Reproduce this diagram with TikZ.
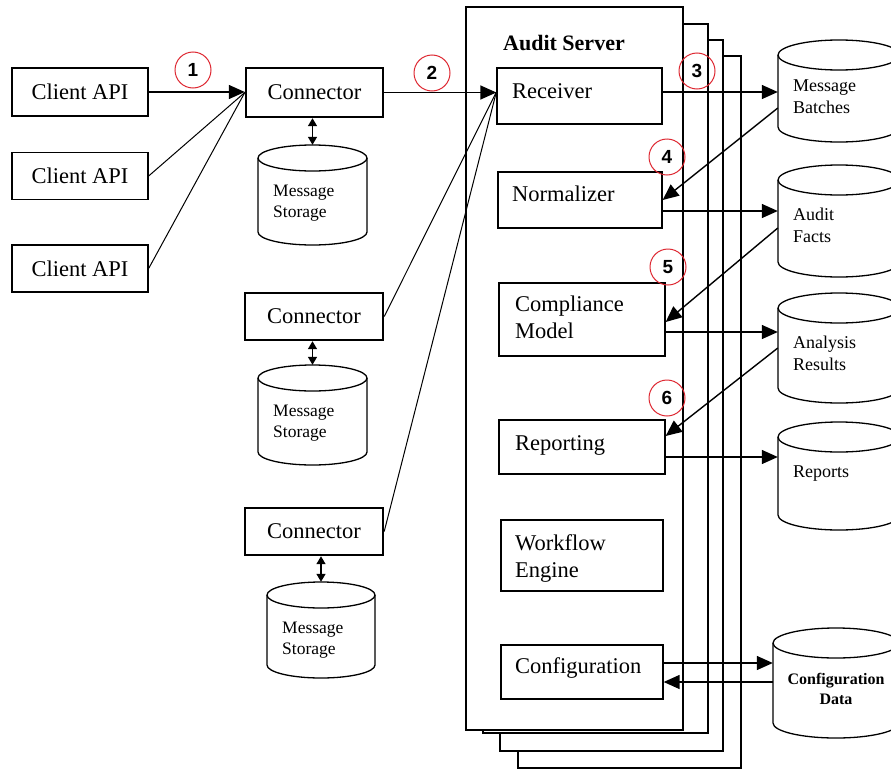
\documentclass[tikz,border=0pt]{standalone}
\usepackage{fontspec}
\setmainfont{Liberation Serif}
\newfontfamily\numfont{Liberation Sans}
\usetikzlibrary{arrows.meta}
\definecolor{circred}{RGB}{222,40,50}
\newcommand\cylshape[7]{% name, cx, cy, rx, h, ry, line width
  \node[inner sep=0pt, minimum width=2*#4, minimum height=2*#5] (#1) at (#2,#3) {};
  \draw[line width=#7, fill=white] (#2-#4,#3-#5+#6) -- (#2-#4,#3+#5-#6)
     arc[start angle=180,end angle=0,x radius=#4,y radius=#6] -- (#2+#4,#3-#5+#6);
  \draw[line width=#7] (#2,#3-#5+#6) ellipse[x radius=#4,y radius=#6];
}
\tikzset{
  thinbox/.style={draw, line width=1.3pt, inner sep=0pt, fill=white},
  thickbox/.style={draw, line width=2.4pt, inner sep=0pt, fill=white, font=\fontsize{22.5}{27}\selectfont},
  layer/.style={draw, line width=2.4pt, fill=white},
  boxtext/.style={inner sep=0pt, anchor=base west, align=left, font=\fontsize{22.5}{27}\selectfont},
  cyltext/.style={inner sep=0pt, anchor=base west, align=left, font=\fontsize{17.5}{20.5}\selectfont},
  rcyltext/.style={inner sep=0pt, anchor=base west, align=left, font=\fontsize{18}{21.5}\selectfont},
  arr/.style={line width=1.4pt, -{Triangle[length=16pt,width=14pt]}},
  plain/.style={line width=1pt},
  dbl/.style={line width=1.4pt, {Triangle[length=8pt,width=9pt]}-{Triangle[length=8pt,width=9pt]}},
  num/.style={circle, draw=circred, line width=1pt, minimum size=36pt, inner sep=0pt, font=\numfont\bfseries\fontsize{19}{19}\selectfont},
}
\begin{document}
\begin{tikzpicture}[x=1pt,y=-1pt]
\useasboundingbox (0,0) rectangle (891,771);
\clip (0,0) rectangle (891,771);
\fill[white] (0,0) rectangle (891,771);

% client APIs
\node[thinbox, minimum width=136pt, minimum height=48pt, font=\fontsize{22.5}{27}\selectfont] (cl1) at (80,92) {Client API};
\node[thinbox, minimum width=136pt, minimum height=47pt, font=\fontsize{22.5}{27}\selectfont] (cl2) at (80,176) {Client API};
\node[thinbox, minimum width=136pt, minimum height=47pt, font=\fontsize{22.5}{27}\selectfont] (cl3) at (80,268.5) {Client API};

% connectors
\node[thickbox, minimum width=137pt, minimum height=49pt] (con1) at (314.5,92.5) {Connector};
\node[thickbox, minimum width=138pt, minimum height=47pt] (con2) at (314,316.5) {Connector};
\node[thickbox, minimum width=138pt, minimum height=47pt] (con3) at (314,531.5) {Connector};

% storages
\cylshape{s1}{312.5}{195}{54.5}{50}{13}{1.3pt}
\cylshape{s2}{312.5}{415}{54.5}{50}{13}{1.3pt}
\cylshape{s3}{321}{630}{54}{48}{13}{1.3pt}
\node[cyltext] (s1t) at (273,217) {Message\\Storage};
\node[cyltext] (s2t) at (273,437) {Message\\Storage};
\node[cyltext] (s3t) at (282,654) {Message\\Storage};

\draw[dbl] (s1.north |- con1.south) -- (s1.north);
\draw[dbl] (s2.north |- con2.south) -- (s2.north);
\draw[dbl] (s3.north |- con3.south) -- (s3.north);

% audit server stack
\draw[layer] (518,56) rectangle (741,768);
\draw[layer] (500,40) rectangle (723,751);
\draw[layer] (483,24) rectangle (708,733);
\node[layer, minimum width=217pt, minimum height=723pt, inner sep=0pt] (srv) at (574.5,368.5) {};
\node[inner sep=0pt, anchor=base west, font=\bfseries\fontsize{22}{26}\selectfont] (srvt) at (503,50.5) {Audit Server};

% inner boxes
\node[thinbox, minimum width=165pt, minimum height=56pt] (recv) at (579.5,96) {};
\node[thinbox, minimum width=164pt, minimum height=56pt] (norm) at (580,200) {};
\node[thinbox, minimum width=166pt, minimum height=73pt] (comp) at (582,319.5) {};
\node[thinbox, minimum width=166pt, minimum height=54pt] (rep) at (582,447) {};
\node[thinbox, minimum width=162pt, minimum height=71pt] (wf) at (582,555.5) {};
\node[thinbox, minimum width=162pt, minimum height=54pt] (conf) at (582,672) {};
\node[boxtext] (recvt) at (512,98) {Receiver};
\node[boxtext] (normt) at (512,201.5) {Normalizer};
\node[boxtext] (compt) at (515,338.5) {Compliance\\Model};
\node[boxtext] (rept) at (515,450) {Reporting};
\node[boxtext] (wft) at (515,577) {Workflow\\Engine};
\node[boxtext] (conft) at (515,673) {Configuration};

% right data stores
\cylshape{mb}{839}{91}{61}{51}{15}{1.3pt}
\cylshape{af}{839}{221}{61}{56}{15}{1.3pt}
\cylshape{ar}{839}{348}{61}{55}{15}{1.3pt}
\cylshape{rp}{839}{476}{61}{54}{15}{1.3pt}
\cylshape{cd}{836}{683}{63}{55}{15}{1.3pt}
\node[rcyltext] (mbt) at (793,113) {Message\\Batches};
\node[rcyltext] (aft) at (793,242) {Audit\\Facts};
\node[rcyltext] (art) at (793,370) {Analysis\\Results};
\node[rcyltext] (rpt) at (793,477) {Reports};
\node[inner sep=0pt, anchor=base, align=center, font=\bfseries\fontsize{16}{19.5}\selectfont] (cdt) at (836,704) {Configuration\\Data};

% connectors between nodes
\draw[arr] (cl1.east) -- (cl1.east -| con1.west);
\draw[plain] (cl2.east) -- (con1.west);
\draw[plain] (cl3.east) -- (con1.west);

\coordinate (rin) at ([yshift=4pt]recv.west);
\draw[arr] (con1.east) -- (con1.east -| rin);
\draw[plain] (con2.east) -- (rin);
\draw[plain] (con3.east) -- (rin);

\draw[arr] ([yshift=4pt]recv.east) -- ([yshift=4pt]recv.east -| mb.west);
\draw[arr] ([yshift=-17pt]mb.west) -- (norm.east);
\draw[arr] ([yshift=-11pt]norm.east) -- ([yshift=-11pt]norm.east -| af.west);
\draw[arr] ([yshift=-7pt]af.west) -- ([yshift=-2.5pt]comp.east);
\draw[arr] ([yshift=-12.5pt]comp.east) -- ([yshift=-12.5pt]comp.east -| ar.west);
\draw[arr] (ar.west) -- ([yshift=11pt]rep.east);
\draw[arr] ([yshift=-10pt]rep.east) -- ([yshift=-10pt]rep.east -| rp.west);
\draw[arr] ([yshift=9pt]conf.east) -- ([yshift=9pt]conf.east -| cd.west);
\draw[arr] ([yshift=-10pt]conf.east -| cd.west) -- ([yshift=-10pt]conf.east);

% step numbers
\node[num] (n1) at (193,70) {1};
\node[num] (n2) at (432,73) {2};
\node[num] (n3) at (697,71) {3};
\node[num] (n4) at (667,157) {4};
\node[num] (n5) at (668,267) {5};
\node[num] (n6) at (667,398) {6};
\end{tikzpicture}
\end{document}
